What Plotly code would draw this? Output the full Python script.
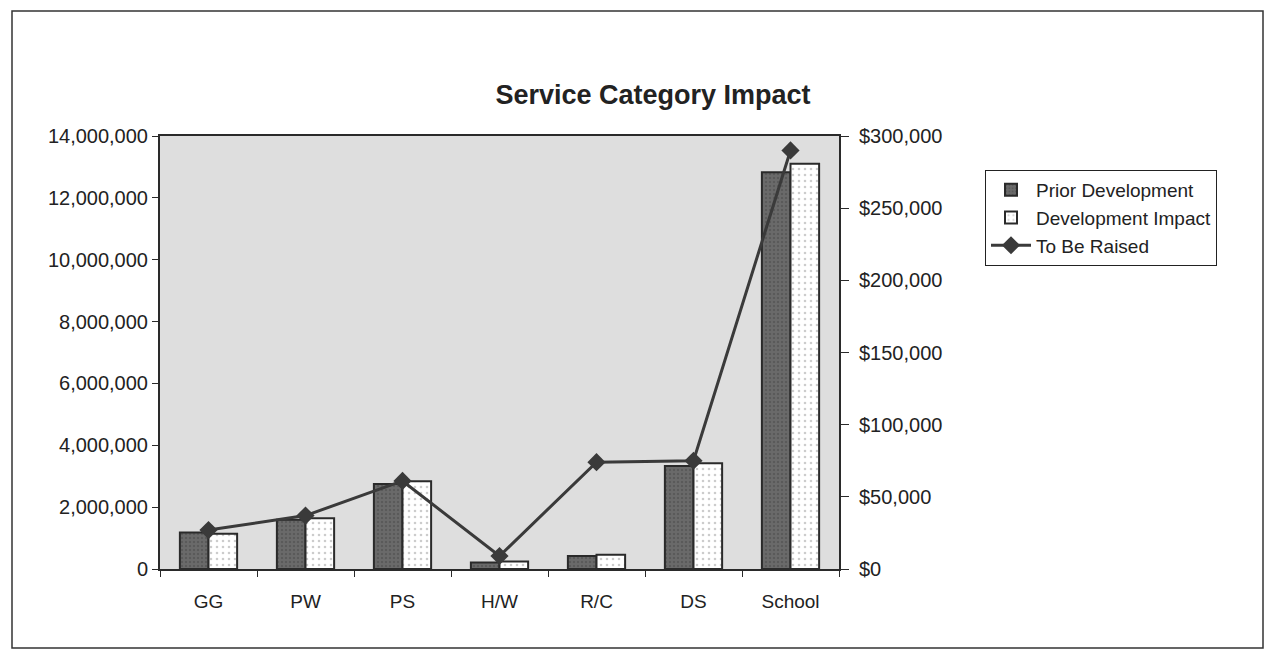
import plotly.graph_objects as go

categories = ["GG", "PW", "PS", "H/W", "R/C", "DS", "School"]
prior_development = [1180000, 1590000, 2750000, 210000, 420000, 3330000, 12830000]
development_impact = [1140000, 1640000, 2840000, 240000, 460000, 3420000, 13100000]
to_be_raised = [27000, 37000, 61000, 9000, 74000, 75000, 290000]

left_ticks = [0, 2000000, 4000000, 6000000, 8000000, 10000000, 12000000, 14000000]
right_ticks = [0, 50000, 100000, 150000, 200000, 250000, 300000]

W, H = 1267, 652
L, R, T, B = 160, 839, 136, 569

fig = go.Figure()
fig.add_trace(go.Bar(
    x=categories, y=prior_development, name="Prior Development",
    marker=dict(color="#5e5e5e", line=dict(color="#2a2a2a", width=2),
                pattern=dict(shape=".", fgcolor="#4a4a4a", bgcolor="#6a6a6a", size=4, solidity=0.3)),
))
fig.add_trace(go.Bar(
    x=categories, y=development_impact, name="Development Impact",
    marker=dict(color="white", line=dict(color="#2a2a2a", width=2),
                pattern=dict(shape=".", fgcolor="#9a9a9a", bgcolor="white", size=6, solidity=0.15)),
))
fig.add_trace(go.Scatter(
    x=categories, y=to_be_raised, name="To Be Raised", yaxis="y2",
    mode="lines+markers",
    line=dict(color="#3a3a3a", width=3),
    marker=dict(symbol="diamond", size=14, color="#3a3a3a"),
))

font_family = "Liberation Sans, Arial, sans-serif"

fig.update_layout(
    width=W, height=H,
    margin=dict(l=L, r=W - R, t=T, b=H - B),
    paper_bgcolor="white",
    plot_bgcolor="#dedede",
    barmode="group",
    bargap=0.41,
    bargroupgap=0.0,
    font=dict(family=font_family, size=19, color="#222"),
    title=dict(text="<b>Service Category Impact</b>", x=653 / W, xanchor="center",
               y=1 - 95 / H, yanchor="middle", font=dict(size=27, color="#222")),
    xaxis=dict(
        showline=True, linecolor="#2a2a2a", linewidth=2, mirror=True,
        ticks="outside", tickson="boundaries", ticklen=6, tickcolor="#2a2a2a",
        tickfont=dict(size=19), showgrid=False, ticklabelstandoff=14,
    ),
    yaxis=dict(
        range=[0, 14000000], tickvals=left_ticks, tickformat=",.0f",
        showline=True, linecolor="#2a2a2a", linewidth=2,
        ticks="outside", ticklen=6, tickcolor="#2a2a2a",
        showgrid=False, zeroline=False, tickfont=dict(size=20),
    ),
    yaxis2=dict(
        range=[0, 300000], tickvals=right_ticks, tickformat="$,.0f",
        overlaying="y", side="right",
        showline=True, linecolor="#2a2a2a", linewidth=2,
        ticks="outside", ticklen=8, tickcolor="#2a2a2a",
        showgrid=False, zeroline=False, tickfont=dict(size=20),
        ticklabelstandoff=6,
    ),
    legend=dict(
        x=(985 - L) / (R - L), y=(B - 170) / (B - T), xanchor="left", yanchor="top",
        bordercolor="#222", borderwidth=1, bgcolor="white",
        font=dict(size=19), traceorder="normal", itemwidth=40,
        tracegroupgap=0,
    ),
    shapes=[dict(
        type="rect", xref="paper", yref="paper",
        x0=(12 - L) / (R - L), x1=(1263 - L) / (R - L),
        y0=(B - 648) / (B - T), y1=(B - 11) / (B - T),
        line=dict(color="#333", width=1.5), fillcolor="rgba(0,0,0,0)", layer="below",
    )],
)

fig.write_html("out.html")
